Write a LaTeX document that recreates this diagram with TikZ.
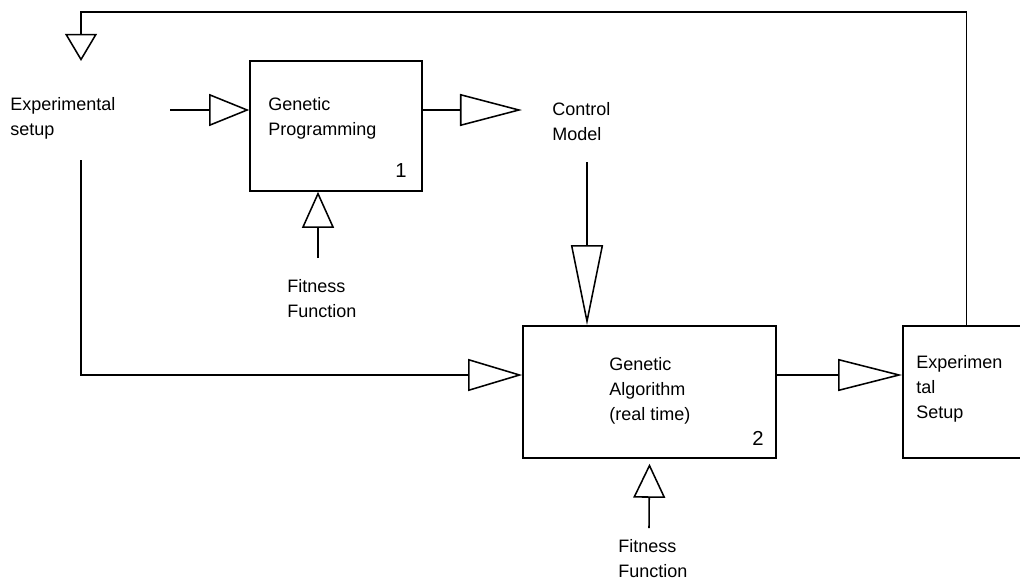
\documentclass[tikz,border=0pt]{standalone}
\usepackage{fontspec}
\setmainfont{Liberation Sans}
\usetikzlibrary{arrows.meta}

\begin{document}
\begin{tikzpicture}[x=0.025cm, y=-0.025cm,
    tri/.style={-{Triangle[open, length=#1, width=0.8cm]}}]
  \tikzstyle{block} = [draw, line width=1.1pt, inner sep=0pt]
  \tikzstyle{lbl} = [anchor=north west, align=left, inner sep=0pt, font=\fontsize{12.8}{17.8}\selectfont]
  \tikzstyle{num} = [anchor=base west, inner sep=0pt, font=\fontsize{14.4}{17.8}\selectfont]
  \tikzstyle{conn} = [line width=1.1pt]
  \path[use as bounding box] (0,0) rectangle (1020,580);
  \clip (0,0) rectangle (1020,580);

  % blocks
  \node[block, minimum width=4.3cm, minimum height=3.25cm] (gp) at (336,126) {};
  \node[block, minimum width=6.325cm, minimum height=3.3cm] (ga) at (649.5,392) {};
  \node[block, minimum width=3.175cm, minimum height=3.3cm] (exp) at (966.5,392) {};

  % texts
  \node[lbl] (setup) at (10,97) {Experimental\\setup};
  \node[lbl] (gptext) at (268,97) {Genetic\\Programming};
  \node[num] (one) at (395,177) {1};
  \node[lbl] (control) at (552,102) {Control\\Model};
  \node[lbl] (fit1) at (287,279) {Fitness\\Function};
  \node[lbl] (gatext) at (609,357) {Genetic\\Algorithm\\(real time)};
  \node[num] (two) at (752,445) {2};
  \node[lbl] (exptext) at (916,355) {Experimen\\tal\\Setup};
  \node[lbl] (fit2) at (618,539) {Fitness\\Function};

  % free ends
  \coordinate (in1) at (170,110);
  \coordinate (cm) at (522,110);
  \coordinate (cmout) at (587,162);
  \coordinate (sdown) at (81,160);
  \coordinate (fit1base) at (318,258);
  \coordinate (fit2base) at (649,528);
  \coordinate (fbcorner) at (81,12);
  \coordinate (fbin) at (81,61);

  % connectors
  \draw[conn, tri=1cm] (in1) -- (in1 -| gp.west);
  \draw[conn, tri=1.55cm] (gp.east |- cm) -- (cm);
  \draw[conn, tri=2cm] (cmout) -- (cmout |- ga.north);
  \draw[conn, tri=1.35cm] (sdown) |- ([yshift=0.425cm]ga.west);
  \draw[conn, tri=1.6cm] ([yshift=0.425cm]ga.east) -- ([yshift=0.425cm]exp.west);
  \draw[conn, tri=0.9cm] (fit1base) -- (fit1base |- gp.south);
  \draw[conn, tri=0.85cm] (fit2base) -- ([yshift=-0.125cm]ga.south);
  \draw[conn, tri=0.68cm] (exp.north) |- (fbcorner) -- (fbin);
\end{tikzpicture}
\end{document}
